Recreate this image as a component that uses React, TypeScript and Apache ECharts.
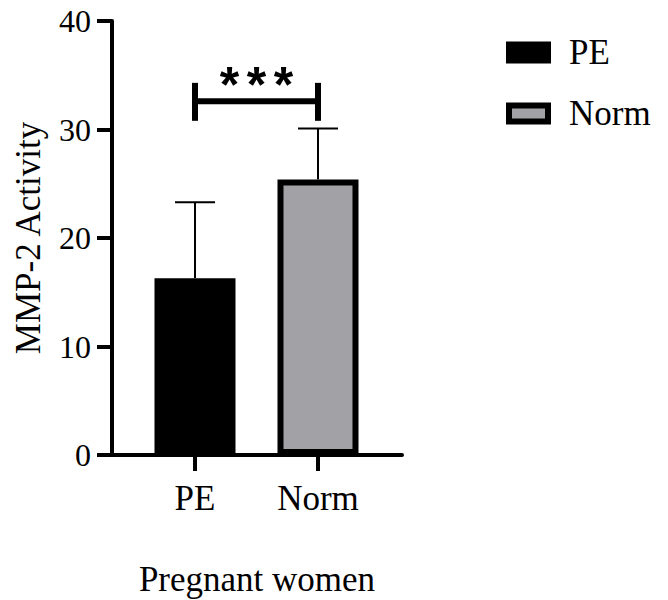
import React, { useEffect, useRef } from 'react';
import * as echarts from 'echarts';

const categories = ['PE', 'Norm'];
const positions = [1, 2];
const means = [16.3, 25.4];
const sds = [7.0, 4.7];
const fills = ['#000000', '#a2a2a6'];
const yMin = 0;
const yMax = 40;
const yStep = 10;
const sigPair = [1, 2];
const sigLevel = 32.6;
const sigCapLow = 30.8;
const sigCapHigh = 34.3;
const sigLabel = '***';
const sigLabelLevel = 35.1;
const xTitle = 'Pregnant women';
const yTitle = 'MMP-2 Activity';

const FONT = 'Liberation Serif';

export default function App() {
  const ref = useRef<HTMLDivElement>(null);
  useEffect(() => {
    if (!ref.current) return;
    const chart = echarts.init(ref.current, undefined, { renderer: 'svg' });
    const barSeries = categories.map((c, i) => ({
      name: c,
      type: 'bar',
      data: [[positions[i], means[i]]],
      barWidth: 81,
      barGap: '-100%',
      itemStyle: { color: fills[i], borderColor: '#000', borderWidth: 6 },
      z: 2,
    }));
    const option: any = {
      animation: false,
      backgroundColor: '#fff',
      grid: { left: 112, top: 21, width: 290, height: 434, outerBoundsMode: 'none', containLabel: false },
      legend: {
        left: 501,
        top: 30,
        orient: 'vertical',
        icon: 'rect',
        itemWidth: 39,
        itemHeight: 16,
        itemGap: 26,
        textStyle: { fontFamily: FONT, fontSize: 35, color: '#000', padding: [0, 0, 0, 16] },
        data: categories.map((c, i) => ({
          name: c,
          itemStyle: { color: fills[i], borderColor: '#000', borderWidth: 6 },
        })),
      },
      xAxis: {
        type: 'value',
        min: 0.3252,
        max: 2.683,
        name: xTitle,
        nameLocation: 'middle',
        nameGap: 107,
        nameTextStyle: { fontFamily: FONT, fontSize: 35, color: '#000' },
        axisLine: { show: true, lineStyle: { color: '#000', width: 4 } },
        axisTick: { show: true, customValues: positions, length: 16, lineStyle: { color: '#000', width: 4 } },
        axisLabel: {
          customValues: positions,
          formatter: (v: number) => categories[positions.indexOf(Math.round(v))] ?? '',
          fontFamily: FONT,
          fontSize: 35,
          color: '#000',
          margin: 26,
        },
        splitLine: { show: false },
      },
      yAxis: {
        type: 'value',
        min: yMin,
        max: yMax,
        interval: yStep,
        name: yTitle,
        nameLocation: 'middle',
        nameGap: 66,
        nameTextStyle: { fontFamily: FONT, fontSize: 35, color: '#000' },
        axisLine: { show: true, lineStyle: { color: '#000', width: 4 } },
        axisTick: { show: true, length: 15, lineStyle: { color: '#000', width: 4 } },
        axisLabel: { fontFamily: FONT, fontSize: 32, color: '#000', margin: 21 },
        splitLine: { show: false },
      },
      series: [
        ...barSeries,
        {
          name: 'err',
          type: 'custom',
          z: 3,
          data: positions.map((p, i) => [p, means[i], sds[i]]),
          renderItem: (params: any, api: any) => {
            const x = api.value(0);
            const m = api.value(1);
            const s = api.value(2);
            const base = api.coord([x, m]);
            const top = api.coord([x, m + s]);
            const hw = 20;
            return {
              type: 'group',
              children: [
                { type: 'line', shape: { x1: base[0], y1: base[1], x2: top[0], y2: top[1] }, style: { stroke: '#000', lineWidth: 2 } },
                { type: 'line', shape: { x1: top[0] - hw, y1: top[1], x2: top[0] + hw, y2: top[1] }, style: { stroke: '#000', lineWidth: 2 } },
              ],
            };
          },
        },
        {
          name: 'sig',
          type: 'custom',
          z: 3,
          data: [[sigPair[0], sigPair[1], sigLevel, sigCapLow, sigCapHigh, sigLabelLevel]],
          renderItem: (params: any, api: any) => {
            const x1 = api.value(0);
            const x2 = api.value(1);
            const lv = api.value(2);
            const lo = api.value(3);
            const hi = api.value(4);
            const tl = api.value(5);
            const a = api.coord([x1, lv]);
            const b = api.coord([x2, lv]);
            const aLo = api.coord([x1, lo]);
            const aHi = api.coord([x1, hi]);
            const bLo = api.coord([x2, lo]);
            const bHi = api.coord([x2, hi]);
            const t = api.coord([(x1 + x2) / 2, tl]);
            const fs = 50;
            const stars = sigLabel.split('').map((ch, k) => ({
              type: 'text',
              x: t[0] + (k - (sigLabel.length - 1) / 2) * 27,
              y: t[1] + fs * 0.22,
              style: {
                text: ch,
                fontFamily: 'Liberation Sans',
                fontWeight: 'bold',
                fontSize: fs,
                fill: '#000',
                align: 'center',
                verticalAlign: 'middle',
              },
            }));
            return {
              type: 'group',
              children: [
                { type: 'line', shape: { x1: a[0], y1: a[1], x2: b[0], y2: b[1] }, style: { stroke: '#000', lineWidth: 6 } },
                { type: 'line', shape: { x1: aLo[0], y1: aLo[1], x2: aHi[0], y2: aHi[1] }, style: { stroke: '#000', lineWidth: 6 } },
                { type: 'line', shape: { x1: bLo[0], y1: bLo[1], x2: bHi[0], y2: bHi[1] }, style: { stroke: '#000', lineWidth: 6 } },
                ...stars,
              ],
            };
          },
        },
      ],
    };
    chart.setOption(option);
    return () => chart.dispose();
  }, []);
  return <div ref={ref} style={{ width: 668, height: 600, position: 'absolute', left: 0, top: 0 }} />;
}
